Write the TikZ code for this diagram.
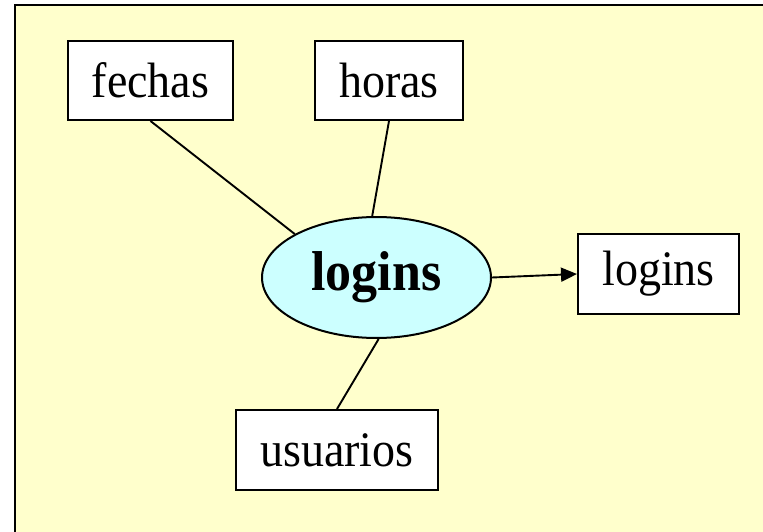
\documentclass[tikz,border=0pt]{standalone}
\usepackage{fontspec}
\setmainfont{Liberation Serif}
\usetikzlibrary{shapes.geometric,arrows.meta}
\definecolor{bgyellow}{HTML}{FFFFCC}
\definecolor{ellcyan}{HTML}{CCFFFF}
\begin{document}
\begin{tikzpicture}[x=1pt,y=-1pt,
  box/.style={draw,line width=2pt,fill=white,inner sep=0pt,font=\fontsize{46}{50}\selectfont},
  conn/.style={line width=1.9pt}]
\useasboundingbox (0,0) rectangle (763,532);
\fill[bgyellow] (15,5) rectangle (763,532);
\draw[line width=2.2pt] (15,532) -- (15,5) -- (763,5);
\node[box,minimum width=165pt,minimum height=79pt] (fe) at (150.5,80.5) {\scalebox{1}[1.08]{fechas}};
\node[box,minimum width=148pt,minimum height=79pt] (ho) at (389,80.5) {\scalebox{1}[1.08]{horas}};
\node[box,minimum width=161pt,minimum height=80pt] (lg) at (658.5,274) {\scalebox{1}[1.08]{logins}};
\node[box,minimum width=202pt,minimum height=80pt] (us) at (337,450) {\scalebox{1}[1.08]{usuarios}};
\node[ellipse,draw,line width=2pt,fill=ellcyan,inner sep=0pt,minimum width=229pt,minimum height=121pt,font=\fontsize{52}{56}\selectfont\bfseries] (el) at (376.5,277.5) {\scalebox{1}[1.08]{logins}};
\draw[conn] (fe.south) -- (el.152);
\draw[conn] (ho.south) -- (el.94);
\draw[conn] (us.north) -- (el.-88);
\draw[conn,-{Triangle[length=16pt,width=14pt]}] (el.east) -- (lg.west);
\end{tikzpicture}
\end{document}
